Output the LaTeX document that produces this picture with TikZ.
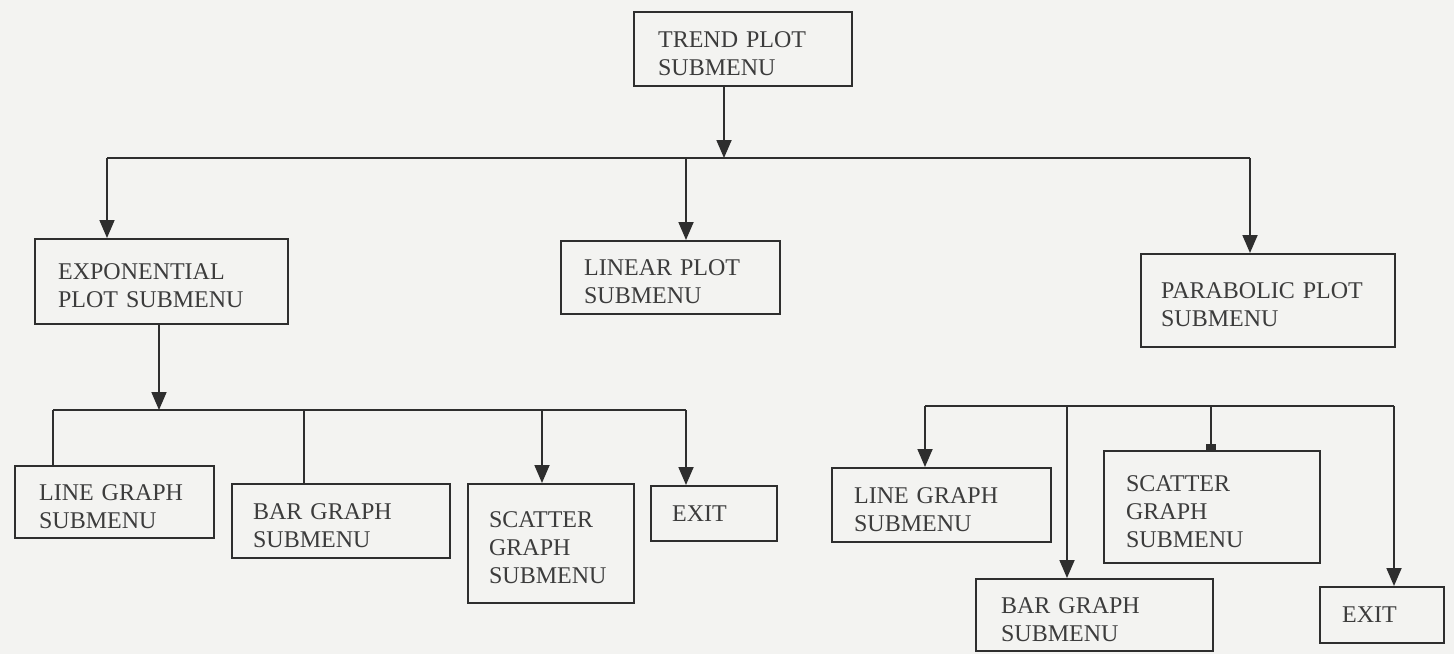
\documentclass[tikz,border=0pt]{standalone}
\usepackage{fontspec}
\setmainfont{Liberation Serif}
\usetikzlibrary{arrows.meta}
\definecolor{bgc}{HTML}{F3F3F1}
\definecolor{inkc}{HTML}{2E2E2E}
\definecolor{txtc}{HTML}{3C3C3C}
\begin{document}
\begin{tikzpicture}[x=1pt,y=-1pt,
  box/.style={draw=inkc, line width=2.2pt, align=left, anchor=north west,
    inner ysep=0pt, text=txtc, font=\fontsize{24}{28}\selectfont},
  mbox/.style={box, execute at begin node={\rule{0pt}{25pt}}},
  ln/.style={draw=inkc, line width=1.8pt},
  arr/.style={ln, -{Triangle[width=15pt,length=18pt]}},
  sq/.style={ln, -{Rectangle[width=10pt,length=6pt]}}]
\fill[bgc] (0,0) rectangle (1454,654);
\useasboundingbox (0,0) rectangle (1454,654);
% boxes
\node[mbox, inner xsep=24pt, text width=170pt, minimum height=74pt] (trend) at (633,11) {TREND PLOT\\SUBMENU};
\node[mbox, inner xsep=23pt, text width=207pt, minimum height=85pt] (exp) at (34,238) {EXPONENTIAL\\PLOT SUBMENU};
\node[mbox, inner xsep=23pt, text width=173pt, minimum height=73pt] (linear) at (560,240) {LINEAR PLOT\\SUBMENU};
\node[mbox, inner xsep=20pt, text width=214pt, minimum height=93pt] (para) at (1140,253) {PARABOLIC PLOT\\SUBMENU};
\node[mbox, inner xsep=24pt, text width=151pt, minimum height=72pt] (lgA) at (14,465) {LINE GRAPH\\SUBMENU};
\node[mbox, inner xsep=21pt, text width=176pt, minimum height=74pt] (bgA) at (231,483) {BAR GRAPH\\SUBMENU};
\node[mbox, inner xsep=21pt, text width=124pt, minimum height=119pt] (scA) at (467,483) {SCATTER\\GRAPH\\SUBMENU};
\node[box, inner xsep=21pt, text width=84pt, minimum height=55pt] (exA) at (650,485) {EXIT};
\node[mbox, inner xsep=22pt, text width=175pt, minimum height=74pt] (lgB) at (831,467) {LINE GRAPH\\SUBMENU};
\node[mbox, inner xsep=25pt, text width=187pt, minimum height=72pt] (bgB) at (975,578) {BAR GRAPH\\SUBMENU};
\node[mbox, inner xsep=22pt, text width=172pt, minimum height=112pt] (scB) at (1103,450) {SCATTER\\GRAPH\\SUBMENU};
\node[box, inner xsep=22pt, text width=80pt, minimum height=56pt] (exB) at (1319,586) {EXIT};
% bus coordinates
\coordinate (b0) at (724,158);
\coordinate (b0L) at (107,158);
\coordinate (b0M) at (686,158);
\coordinate (b0R) at (1250,158);
\coordinate (b1) at (159,410);
\coordinate (b1L) at (53,410);
\coordinate (b1a) at (304,410);
\coordinate (b1b) at (542,410);
\coordinate (b1R) at (686,410);
\coordinate (b2L) at (925,406);
\coordinate (b2a) at (1067,406);
\coordinate (b2b) at (1211,406);
\coordinate (b2R) at (1394,406);
% top level
\draw[arr] (trend.south -| b0) -- (b0);
\draw[ln] (b0L) -- (b0R);
\draw[arr] (b0L) -- (exp.north -| b0L);
\draw[arr] (b0M) -- (linear.north -| b0M);
\draw[arr] (b0R) -- (para.north -| b0R);
% exponential branch
\draw[arr] (exp.south -| b1) -- (b1);
\draw[ln] (b1L) -- (b1R);
\draw[ln] (b1L) -- (lgA.north -| b1L);
\draw[ln] (b1a) -- (bgA.north -| b1a);
\draw[arr] (b1b) -- (scA.north -| b1b);
\draw[arr] (b1R) -- (exA.north -| b1R);
% parabolic branch
\draw[ln] (b2L) -- (b2R);
\draw[arr] (b2L) -- (lgB.north -| b2L);
\draw[arr] (b2a) -- (bgB.north -| b2a);
\draw[sq] (b2b) -- (scB.north -| b2b);
\draw[arr] (b2R) -- (exB.north -| b2R);
\end{tikzpicture}
\end{document}
